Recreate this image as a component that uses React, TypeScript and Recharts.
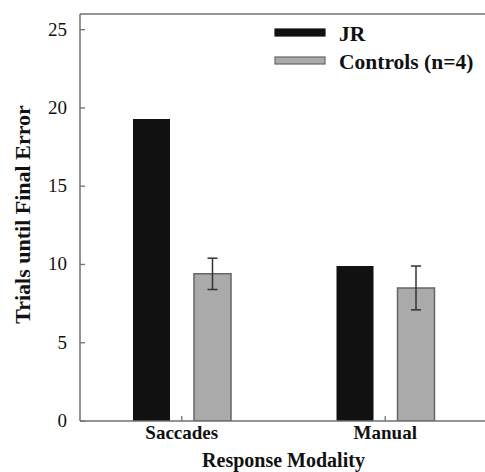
import React from 'react';
import { BarChart, Bar, XAxis, YAxis, ErrorBar, Legend, ReferenceLine } from 'recharts';

const categories = ['Saccades', 'Manual'];
const jrValues = [19.3, 9.9];
const controlValues = [9.4, 8.5];
const controlErrors = [1.0, 1.4];
const yTicks = [0, 5, 10, 15, 20, 25];
const seriesNames = ['JR', 'Controls (n=4)'];

const data = categories.map((c, i) => ({
  name: c,
  jr: jrValues[i],
  controls: controlValues[i],
  err: controlErrors[i],
}));

const FONT = '"Liberation Serif", "Times New Roman", serif';
const AXIS = '#707070';

const YTick = (props: any) => {
  const { x, y, payload } = props;
  return (
    <g>
      <line x1={x} x2={x + 5} y1={y} y2={y} stroke={AXIS} strokeWidth={1.3} />
      <text x={x - 13} y={y} dy={6} textAnchor="end" fontFamily={FONT} fontSize={19} fill="#111">
        {payload.value}
      </text>
    </g>
  );
};

const XTick = (props: any) => {
  const { x, y, payload } = props;
  return (
    <g>
      <line x1={x} x2={x} y1={y} y2={y - 5} stroke={AXIS} strokeWidth={1.3} />
      <text x={x} y={y + 18} textAnchor="middle" fontFamily={FONT} fontWeight="bold" fontSize={19} fill="#111">
        {payload.value}
      </text>
    </g>
  );
};

const YLabel = (props: any) => {
  const { viewBox } = props;
  const cy = viewBox.y + viewBox.height / 2 - 3;
  return (
    <text
      x={30}
      y={cy}
      transform={`rotate(-90, 30, ${cy})`}
      textAnchor="middle"
      fontFamily={FONT}
      fontWeight="bold"
      fontSize={22}
      fill="#111"
    >
      Trials until Final Error
    </text>
  );
};

const XLabel = (props: any) => {
  const { viewBox } = props;
  return (
    <text
      x={viewBox.x + viewBox.width / 2 - 0}
      y={467}
      textAnchor="middle"
      fontFamily={FONT}
      fontWeight="bold"
      fontSize={20}
      fill="#111"
    >
      Response Modality
    </text>
  );
};

const LegendContent = () => {
  return (
    <svg width={210} height={72} style={{ display: 'block', overflow: 'visible' }}>
      {seriesNames.map((name, i) => (
        <g key={name}>
          <rect
            x={1}
            y={12 + i * 28}
            width={50}
            height={7}
            fill={i === 0 ? '#111' : '#aaa'}
            stroke={i === 0 ? '#111' : '#666'}
            strokeWidth={1.2}
          />
          <text x={65} y={24 + i * 28} fontFamily={FONT} fontWeight="bold" fontSize={21.5} fill="#111">
            {name}
          </text>
        </g>
      ))}
    </svg>
  );
};

export default function App() {
  return (
    <div style={{ position: 'absolute', left: 0, top: 0 }}>
      <BarChart
        width={485}
        height={472}
        data={data}
        margin={{ top: 14, right: -2, left: 0, bottom: 0 }}
        barSize={37}
        barGap={24}
      >
        <XAxis
          dataKey="name"
          height={51}
          axisLine={{ stroke: AXIS, strokeWidth: 1.5 }}
          tickLine={false}
          tickSize={0}
          tickMargin={0}
          tick={<XTick />}
          label={<XLabel />}
          interval={0}
        />
        <YAxis
          width={80}
          domain={[0, 26]}
          ticks={yTicks}
          axisLine={{ stroke: AXIS, strokeWidth: 1.5 }}
          tickLine={false}
          tickSize={0}
          tickMargin={0}
          tick={<YTick />}
          label={<YLabel />}
          allowDataOverflow
        />
        <ReferenceLine y={26} stroke={AXIS} strokeWidth={1.5} />
        <Legend
          layout="vertical"
          align="center"
          verticalAlign="middle"
          content={<LegendContent />}
          wrapperStyle={{ position: 'absolute', left: 274, top: 17, width: 210, height: 72 }}
        />
        <Bar dataKey="jr" name={seriesNames[0]} fill="#111" isAnimationActive={false} />
        <Bar dataKey="controls" name={seriesNames[1]} fill="#aaa" stroke="#666" strokeWidth={1.5} isAnimationActive={false}>
          <ErrorBar dataKey="err" width={5} stroke="#333" strokeWidth={1.5} />
        </Bar>
      </BarChart>
    </div>
  );
}
